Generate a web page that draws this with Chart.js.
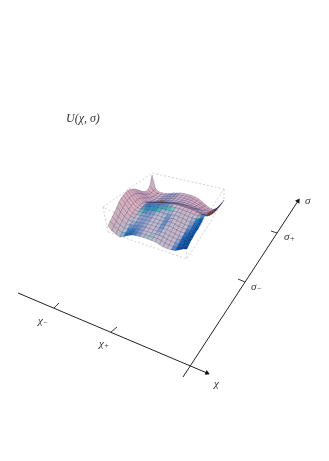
<!DOCTYPE html>
<html>
<head>
<meta charset="utf-8">
<style>
  html, body { margin: 0; padding: 0; background: #fff; }
  canvas { display: block; }
</style>
<script src="https://cdn.jsdelivr.net/npm/chart.js@4"></script>
</head>
<body>
<canvas id="surface" width="329" height="461"></canvas>
<script>
// U(chi, sigma): one list per chi step, 21 sigma steps each
var u_values = [
  [14,17.4,20.2,23,26.4,29.8,32,33.5,34.3,34.6,34,32.9,31.2,29,26.9,24.2,22,20.5,20.3,22.6,32],
  [10.4,13.5,16.5,19.4,22.3,25,27.2,28.8,29.6,29.9,29.6,29,27.6,25.6,23.4,21.2,19.6,18.4,18,18.2,18.4],
  [8.7,11.4,14,16.6,19,21.2,23,24.4,25.2,25.6,25.5,25,23.9,22.2,20.3,18.6,17.2,16.4,16,15.9,15.8],
  [7,9.6,12.2,14.6,16.8,18.8,20.3,21.4,22,22.3,22.3,22,20.4,18.7,17.2,16,15.5,15.3,15.2,15.2,15.2],
  [8.9,10.9,12.9,14.9,16.7,18.3,19.7,20.8,21.7,22.3,22.6,22.5,20.8,19,17.3,16,15.4,15.2,15.1,15.1,15.1],
  [11.2,12.7,14.2,15.7,17.1,18.5,19.7,20.9,21.9,22.8,23.4,23.5,21.7,19.8,18,16.7,16,15.7,15.6,15.5,15.5],
  [13.1,14.2,15.4,16.6,17.8,19,20.1,21.2,22.4,23.4,24,24.2,22.3,20.4,18.6,17.3,16.7,16.5,16.4,16.4,16.4],
  [14,15,16,17.1,18.2,19.3,20.4,21.6,22.8,24,24.8,25,23,21,19,17.7,17.2,17,16.9,16.8,16.8],
  [14.3,15.2,16.2,17.3,18.4,19.5,20.6,21.8,23.1,24.5,25.3,25.5,23.5,21.4,19.4,18.1,17.6,17.4,17.3,17.2,17.2],
  [14.6,15.4,16.4,17.4,18.5,19.6,20.8,22,23.3,24.8,25.8,26,24,21.9,19.8,18.3,17.8,17.5,17.3,17.2,17.1],
  [14.5,15.3,16.2,17.1,18.1,19.1,20.2,21.4,22.8,24.4,26,26.6,24.8,22.7,20.6,18.7,17.6,17,16.8,16.6,16.5],
  [14.4,15.3,16.3,17.3,18.3,19.4,20.5,21.7,23.1,24.7,26.2,26.8,24.9,22.7,20.5,18.5,17.4,16.9,16.5,16.2,15.9],
  [14.2,15.3,16.4,17.5,18.6,19.8,21,22.2,23.5,25,26.3,26.8,24.8,22.5,20.2,18.1,16.9,16.2,15.7,15.2,14.8],
  [13,14.6,16,17.4,18.9,20.3,21.7,23,24.2,25.3,26.2,26.6,24.5,22.2,19.9,17.7,16,15,14.3,13.7,13.2],
  [11.9,13.4,14.8,16.3,17.8,19.3,20.7,22.1,23.5,24.8,25.8,26,23.9,21.5,19.1,16.8,14.8,13.5,12.5,11.5,10.6],
  [11.7,12.9,14.2,15.6,17,18.3,19.7,21.1,22.6,24,25.2,25.5,23.3,20.9,18.4,15.9,13.6,11.9,10.6,9.2,8],
  [11.6,12.6,13.8,15,16.2,17.4,18.7,20.1,21.6,23.3,24.6,25,22.7,20.3,17.9,15.3,12.5,10.2,8.3,6.7,5.4],
  [12.4,13.3,14.3,15.4,16.5,17.6,18.7,19.9,21.2,22.7,23.9,23.8,21.5,18.5,15.5,12.6,10.3,8.5,6.7,5.2,4.3],
  [14.3,15,15.8,16.7,17.6,18.5,19.4,20.4,21.5,22.6,23.3,22.7,19.8,16.8,14,11.8,10,8.7,7.8,6.6,6.2],
  [16.6,17.3,18.2,19,19.9,20.7,21.3,22,22.8,24,25,22.6,19.4,17,15,13.4,12.4,11.7,11,10.4,10.1],
  [18,19.4,20.8,21.2,22.1,22.5,22.4,23.3,24.2,25.6,26,22.4,20.3,18.7,17.1,16,15.4,15.3,14.7,14.6,15]
];

// where the U=0 plane sits on the page
var plane_left = [108, 240];
var plane_front = [187, 267];
var plane_right = [224, 215];
var plane_back = [152, 207];

var box_top = [[103,207],[152,173],[224,189],[186,248],[103,207]];
var box_bottom = [[108,232],[187,259],[224,200]];
var box_verticals = [[[103,207],[108,232]], [[186,248],[187,259]], [[224,189],[224,200]]];

var chi_axis = [[18,293],[207,373]];
var sigma_axis = [[183,377],[298,201]];
var chi_ticks = [[[54,308],[59,303]], [[111,332],[117,327]]];
var sigma_ticks = [[[271,231],[277,233]], [[238,279],[245,282]]];

// text, subscript, x, y, size
var text_labels = [
  ["U(χ, σ)", "", 66, 119, 12],
  ["χ", "−", 38, 321, 11],
  ["χ", "+", 99, 344, 11],
  ["χ", "", 214, 384, 11],
  ["σ", "", 305, 201, 11],
  ["σ", "+", 284, 237, 11],
  ["σ", "−", 251, 287, 11]
];

function project(i, j) {
  var a = i / 20, b = j / 20, h = u_values[i][j];
  var w = [(1-a)*(1-b), a*(1-b), a*b, (1-a)*b];
  return {
    x: w[0]*plane_left[0] + w[1]*plane_front[0] + w[2]*plane_right[0] + w[3]*plane_back[0],
    y: w[0]*plane_left[1] + w[1]*plane_front[1] + w[2]*plane_right[1] + w[3]*plane_back[1] - h
  };
}

function clamp(v) { return Math.max(0, Math.min(255, Math.round(v))); }

// coloured lights, from the slope of the cell
function cell_color(i, j) {
  var k = Math.min(j + 1, 19);
  var lo = Math.max(i - 1, 0), hi = Math.min(i + 2, 20);
  var du = (u_values[hi][k] + u_values[hi][k+1] - u_values[lo][k] - u_values[lo][k+1]) / (2 * (hi - lo));
  var dv = (u_values[i][j+1] + u_values[i+1][j+1] - u_values[i][j] - u_values[i+1][j]) / 2;
  du = du / 1.4; dv = dv / 2.2;
  var s = Math.sqrt(1 + du*du + dv*dv);
  var a = du / s, b = dv / s;
  var pa = Math.max(a, 0), na = Math.max(-a, 0), pb = Math.max(b, 0), nb = Math.max(-b, 0);
  var orange = Math.min(1, Math.max(Math.min(pa, Math.max(-dv, 0)) - 0.24, 0) * 14);
  // behind the crest the gentle slopes stay mauve
  if (j >= 12 && pa < 0.5) pa = pa * 0.4;
  // teal only on the row just under the crest
  var crest = j < 19 && u_values[i][j+2] - u_values[i][j+1] < 1;
  var teal = crest ? Math.max(pb - 0.2 - 2*na, 0) : 0;
  var r = 205 - 300*pa + 15*na - 60*pb*pb - 20*nb - 200*teal;
  var g = 182 - 140*pa - 12*na + 10*pb - 30*nb + 50*teal;
  var bl = 212 - 70*pa*pa - 25*na - 70*teal;
  r = r + (185 - r)*orange;
  g = g + (75 - g)*orange;
  bl = bl + (30 - bl)*orange;
  return "rgb(" + clamp(r) + "," + clamp(g) + "," + clamp(bl) + ")";
}

function to_points(list) {
  return list.map(function(p) { return {x: p[0], y: p[1]}; });
}

var datasets = [];

function add_line(points, color, width, dash) {
  datasets.push({
    data: to_points(points), showLine: true, fill: false, tension: 0,
    borderColor: color, borderWidth: width, borderDash: dash || [], pointRadius: 0
  });
}

// axes first, they sit on top
[chi_axis, sigma_axis].forEach(function(axis) {
  var dx = axis[1][0] - axis[0][0], dy = axis[1][1] - axis[0][1];
  datasets.push({
    data: to_points(axis), showLine: true, fill: false, tension: 0,
    borderColor: "#222", borderWidth: 1,
    pointRadius: [0, 3], pointStyle: "triangle",
    pointRotation: [0, Math.atan2(dy, dx) * 180 / Math.PI + 90],
    pointBackgroundColor: "#111", pointBorderColor: "#111", pointBorderWidth: 0
  });
});
chi_ticks.concat(sigma_ticks).forEach(function(t) { add_line(t, "#222", 0.9); });

// near cells go first because chart.js paints the first dataset last
for (var i = 19; i >= 0; i--) {
  for (var j = 0; j < 20; j++) {
    datasets.push({
      data: [project(i,j), project(i+1,j), project(i+1,j+1), project(i,j+1), project(i,j)],
      showLine: true, tension: 0, pointRadius: 0,
      fill: "shape", backgroundColor: cell_color(i, j),
      borderColor: "rgba(45,45,70,0.45)", borderWidth: 0.5
    });
  }
}

add_line(box_top, "#bbb", 0.7, [2, 2]);
add_line(box_bottom, "#bbb", 0.7, [2, 2]);
box_verticals.forEach(function(v) { add_line(v, "#bbb", 0.7, [2, 2]); });

var label_plugin = {
  id: "page_labels",
  afterDraw: function(chart) {
    var ctx = chart.ctx, sx = chart.scales.x, sy = chart.scales.y;
    ctx.save();
    ctx.fillStyle = "#333";
    ctx.textBaseline = "middle";
    text_labels.forEach(function(l) {
      var x = sx.getPixelForValue(l[2]), y = sy.getPixelForValue(l[3]);
      ctx.font = "italic " + l[4] + "px 'Liberation Serif'";
      ctx.fillText(l[0], x, y);
      if (l[1]) {
        var w = ctx.measureText(l[0]).width;
        ctx.font = "8px 'Liberation Serif'";
        ctx.fillText(l[1], x + w + 0.5, y + 2);
      }
    });
    ctx.restore();
  }
};

new Chart(document.getElementById("surface"), {
  type: "scatter",
  data: { datasets: datasets },
  plugins: [label_plugin],
  options: {
    responsive: false,
    animation: false,
    layout: { padding: 0, autoPadding: false },
    plugins: { legend: { display: false }, tooltip: { enabled: false } },
    scales: {
      x: { type: "linear", display: false, min: 0, max: 329 },
      y: { type: "linear", display: false, min: 0, max: 461, reverse: true }
    }
  }
});
</script>
</body>
</html>
